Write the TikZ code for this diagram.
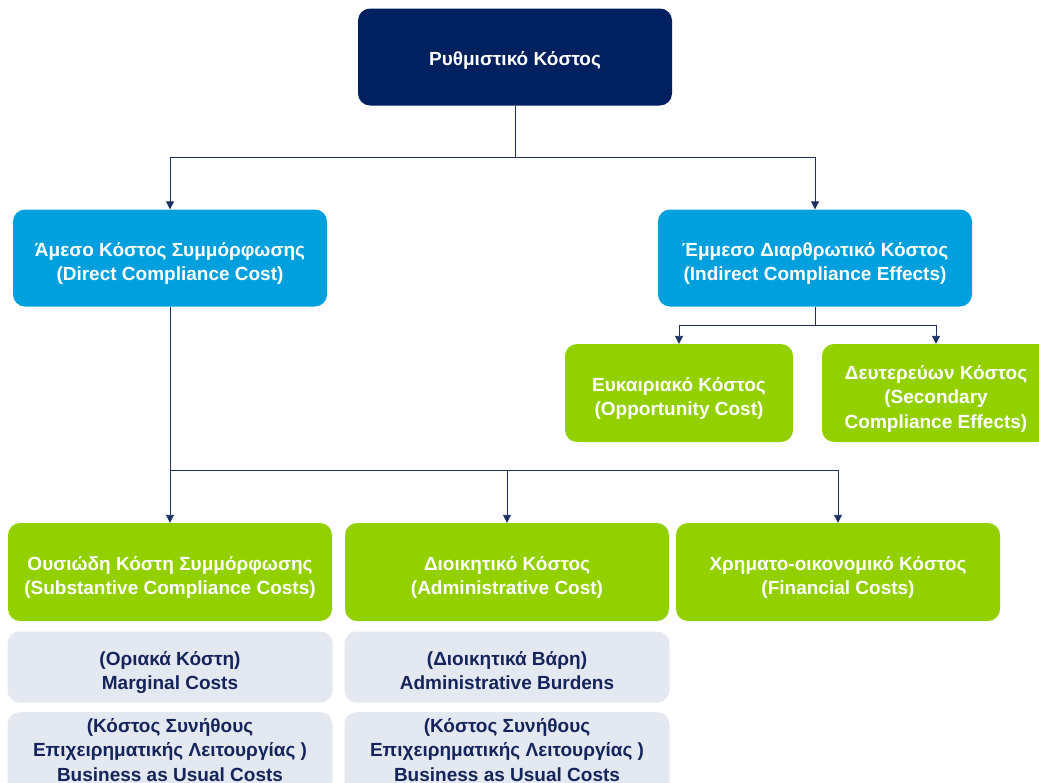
\documentclass[tikz,border=0pt]{standalone}
\usepackage{fontspec}
\setmainfont{Liberation Sans}
\usetikzlibrary{arrows.meta}

\definecolor{navybox}{RGB}{0,32,96}
\definecolor{cyanbox}{RGB}{0,160,222}
\definecolor{greenbox}{RGB}{146,208,0}
\definecolor{greybox}{RGB}{228,232,240}
\definecolor{greytext}{RGB}{22,36,92}
\definecolor{linkcol}{RGB}{28,48,100}

% text lines of a box, set a little below its middle
\newcommand\boxlines[2][10pt]{\raisebox{-#1}[0pt][0pt]{\begin{tabular}{@{}c@{}}#2\end{tabular}}}

\tikzset{
  costbox/.style={rounded corners=12pt, font=\fontsize{19}{24.5}\selectfont\bfseries,
    text=white, inner sep=0pt},
  topbox/.style={costbox, fill=navybox, minimum width=314pt, minimum height=97pt},
  bluebox/.style={costbox, fill=cyanbox, minimum width=314pt, minimum height=97pt},
  smallgreen/.style={costbox, fill=greenbox, minimum width=228pt, minimum height=98pt},
  greenrow/.style={costbox, fill=greenbox, minimum width=324pt, minimum height=98pt},
  greyrow/.style={costbox, fill=greybox, text=greytext, minimum width=325pt},
  link/.style={draw=linkcol, line width=0.9pt},
  linkarrow/.style={link, -{Triangle[length=8pt,width=8pt]}}
}

\begin{document}
\begin{tikzpicture}[x=1pt,y=-1pt]
\useasboundingbox (0,0) rectangle (1039,782);

% Top level
\node[topbox] (reg) at (515,57) {\boxlines[8pt]{Ρυθμιστικό Κόστος}};

% Second level
\node[bluebox] (direct) at (170,258) {\boxlines{Άμεσο Κόστος Συμμόρφωσης\\(Direct Compliance Cost)}};
\node[bluebox] (indirect) at (815,258) {\boxlines{Έμμεσο Διαρθρωτικό Κόστος\\(Indirect Compliance Effects)}};

% Indirect branch
\node[smallgreen] (opport) at (679,393) {\boxlines{Ευκαιριακό Κόστος\\(Opportunity Cost)}};
\node[smallgreen] (second) at (936,393) {\boxlines{Δευτερεύων Κόστος\\(Secondary\\Compliance Effects)}};

% Direct branch
\node[greenrow] (subst) at (170,572) {\boxlines{Ουσιώδη Κόστη Συμμόρφωσης\\(Substantive Compliance Costs)}};
\node[greenrow] (admin) at (507,572) {\boxlines{Διοικητικό Κόστος\\(Administrative Cost)}};
\node[greenrow] (finan) at (838,572) {\boxlines{Χρηματο-οικονομικό Κόστος\\(Financial Costs)}};

% Grey detail boxes
\node[greyrow, minimum height=71pt] (marg) at (170,667) {\boxlines{(Οριακά Κόστη)\\Marginal Costs}};
\node[greyrow, minimum height=71pt] (burd) at (507,667) {\boxlines{(Διοικητικά Βάρη)\\Administrative Burdens}};
\node[greyrow, minimum height=84pt, anchor=north] (bau1) at (170,712) {\boxlines[2pt]{(Κόστος Συνήθους\\Επιχειρηματικής Λειτουργίας )\\Business as Usual Costs}};
\node[greyrow, minimum height=84pt, anchor=north] (bau2) at (507,712) {\boxlines[2pt]{(Κόστος Συνήθους\\Επιχειρηματικής Λειτουργίας )\\Business as Usual Costs}};

% Connectors
\draw[link] (reg.south) -- ++(0,52) coordinate (j1);
\draw[linkarrow] (j1) -| (direct.north);
\draw[linkarrow] (j1) -| (indirect.north);

\draw[link] (indirect.south) -- ++(0,19) coordinate (j2);
\draw[linkarrow] (j2) -| (opport.north);
\draw[linkarrow] (j2) -| (second.north);

\draw[link] (direct.south) -- ++(0,164) coordinate (j3);
\draw[linkarrow] (j3) -- (subst.north);
\draw[linkarrow] (j3) -| (admin.north);
\draw[linkarrow] (j3) -| (finan.north);

\end{tikzpicture}
\end{document}
